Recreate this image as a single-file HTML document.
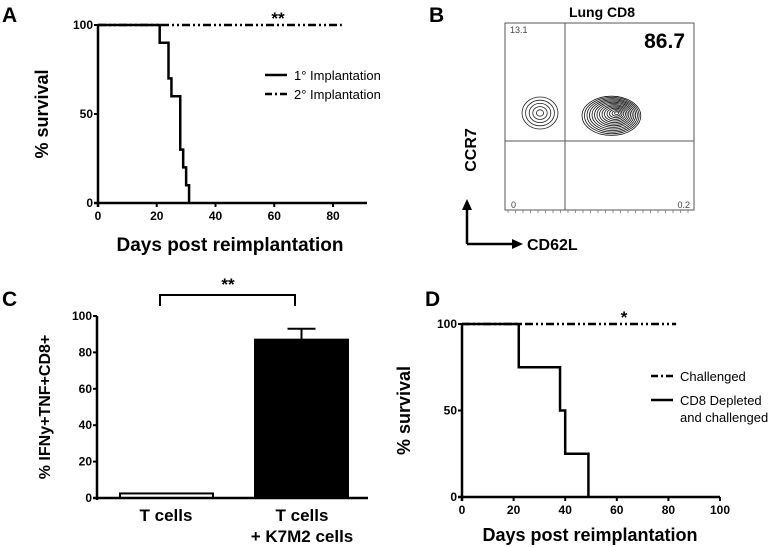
<!DOCTYPE html>
<html><head><meta charset="utf-8"><style>
body{margin:0;background:#fff}
svg{display:block;font-family:"Liberation Sans",Arial,sans-serif}
</style></head><body>
<svg id="fig" width="778" height="547" viewBox="0 0 778 547">
<text x="2" y="22" font-size="21" font-weight="bold">A</text>
<text x="429" y="22" font-size="21" font-weight="bold">B</text>
<text x="2" y="306" font-size="21" font-weight="bold">C</text>
<text x="425" y="306" font-size="21" font-weight="bold">D</text>
<g id="gA"></g>
<g id="gB"></g>
<g id="gC"></g>
<g id="gD"></g>
</svg>
<script>
// Panel A data
const aDays1 = [0, 21, 24, 25, 28, 29, 30, 31];
const aSurv1 = [100, 90, 70, 60, 30, 20, 10, 0];
const aDays2 = [0, 83];
const aSurv2 = [100, 100];
const aXTicks = [0, 20, 40, 60, 80];
const aYTicks = [0, 50, 100];
// Panel D data
const dDays1 = [0, 83];
const dSurv1 = [100, 100];
const dDays2 = [0, 22, 38, 40, 49];
const dSurv2 = [100, 75, 50, 25, 0];
const dXTicks = [0, 20, 40, 60, 80, 100];
const dYTicks = [0, 50, 100];
// Panel C data
const cCategories = ["T cells", "T cells + K7M2 cells"];
const cValues = [2.5, 87];
const cErrors = [0, 6];
const cYTicks = [0, 20, 40, 60, 80, 100];
// Panel B data
const bQuadrants = ["13.1", "86.7", "0", "0.2"];

const NS = "http://www.w3.org/2000/svg";
function mk(parent, tag, attrs, text) {
  const e = document.createElementNS(NS, tag);
  for (const k in attrs) e.setAttribute(k, attrs[k]);
  if (text !== undefined) e.textContent = text;
  parent.appendChild(e);
  return e;
}
function stepPath(xs, ys, sx, sy) {
  let d = "M" + sx(xs[0]) + "," + sy(ys[0]);
  for (let i = 1; i < xs.length; i++) {
    d += " H" + sx(xs[i]) + " V" + sy(ys[i]);
  }
  return d;
}
function survival(g, cfg) {
  const sx = v => cfg.x0 + (v - 0) * (cfg.x1 - cfg.x0) / cfg.xmax;
  const sy = v => cfg.y0 - v * (cfg.y0 - cfg.y1) / 100;
  let e;
  e = mk(g, "line", {x1: sx(0), y1: cfg.y1, x2: sx(0), y2: cfg.y0 + 4, stroke: "#000", "stroke-width": 2.5});
  
  
  e = mk(g, "line", {x1: sx(0) - 4, y1: cfg.y0, x2: cfg.xend, y2: cfg.y0, stroke: "#000", "stroke-width": 2.5});
  
  
  cfg.yt.forEach(t => {
    mk(g, "line", {x1: sx(0) - 4, y1: sy(t), x2: sx(0), y2: sy(t), stroke: "#000", "stroke-width": 2});
    e = mk(g, "text", {x: sx(0) - 5, y: sy(t) + 4, "font-size": 12, "font-weight": "bold", "text-anchor": "end"}, t);
    
    
  });
  cfg.xt.forEach(t => {
    mk(g, "line", {x1: sx(t), y1: cfg.y0, x2: sx(t), y2: cfg.y0 + 4, stroke: "#000", "stroke-width": 2});
    e = mk(g, "text", {x: sx(t), y: cfg.y0 + 17, "font-size": 12, "font-weight": "bold", "text-anchor": "middle"}, t);
    
    
  });
  e = mk(g, "path", {d: stepPath(cfg.sxs, cfg.sys, sx, sy), fill: "none", stroke: "#000", "stroke-width": 2.5});
  
  
  e = mk(g, "path", {d: stepPath(cfg.dxs, cfg.dys, sx, sy), fill: "none", stroke: "#000", "stroke-width": 2.5, "stroke-dasharray": "8,3,2,3,2,3"});
  
  
  e = mk(g, "text", {x: cfg.starX, y: sy(100) - 1, "font-size": 17, "font-weight": "bold", "text-anchor": "middle"}, cfg.star);
  
  
  e = mk(g, "text", {x: cfg.ylx, y: (cfg.y0 + cfg.y1) / 2, "font-size": 18, "font-weight": "bold", "text-anchor": "middle", transform: "rotate(-90 " + cfg.ylx + " " + (cfg.y0 + cfg.y1) / 2 + ")"}, "% survival");
  
  
  e = mk(g, "text", {x: cfg.xlx, y: cfg.xly, "font-size": cfg.xfs, "font-weight": "bold", "text-anchor": "middle"}, "Days post reimplantation");
  
  
  cfg.legend.forEach((L, i) => {
    e = mk(g, "line", {x1: L.x, y1: L.y, x2: L.x + 22, y2: L.y, stroke: "#000", "stroke-width": 2.5, "stroke-dasharray": L.dash || "none"});
    
    
    L.lines.forEach((t, j) => {
      e = mk(g, "text", {x: L.x + 29, y: L.y + 5 + j * 17, "font-size": 13}, t);
      
      
    });
  });
}
survival(document.getElementById("gA"), {
  x0: 98, x1: 333, xmax: 80, xend: 367, y0: 203, y1: 25, xt: aXTicks, yt: aYTicks,
  sxs: aDays1, sys: aSurv1, dxs: aDays2, dys: aSurv2, star: "**", starX: 278,
  ylx: 48, xlx: 230, xly: 251, xfs: 19,
  legend: [{x: 265, y: 75, lines: ["1° Implantation"]}, {x: 265, y: 94, dash: "7,3,2,3", lines: ["2° Implantation"]}]
});
survival(document.getElementById("gD"), {
  x0: 462, x1: 720, xmax: 100, xend: 720, y0: 497, y1: 324, xt: dXTicks, yt: dYTicks,
  sxs: dDays2, sys: dSurv2, dxs: dDays1, dys: dSurv1, star: "*", starX: 624,
  ylx: 410, xlx: 590, xly: 541, xfs: 18,
  legend: [{x: 651, y: 376, dash: "7,3,2,3", lines: ["Challenged"]}, {x: 651, y: 400, lines: ["CD8 Depleted", "and challenged"]}]
});

// Panel C
(function () {
  const g = document.getElementById("gC");
  const x0 = 97, y0 = 498, y1 = 316;
  const sy = v => y0 - v * (y0 - y1) / 100;
  const bandL = [120, 255], bw = 93;
  let e;
  e = mk(g, "line", {x1: x0, y1: y1, x2: x0, y2: y0 + 2, stroke: "#000", "stroke-width": 2.5});
  
  
  cCategories.forEach((c, i) => {
    const x = bandL[i], v = cValues[i];
    const fill = i === 0 ? "#fff" : "#000";
    e = mk(g, "rect", {x: x, y: sy(v), width: bw, height: y0 - sy(v), fill: fill, stroke: "#000", "stroke-width": 2});
    
    
    if (cErrors[i] > 0) {
      const cx = x + bw / 2;
      e = mk(g, "path", {d: "M" + cx + "," + sy(v) + " V" + sy(v + cErrors[i]) + " M" + (cx - 14) + "," + sy(v + cErrors[i]) + " H" + (cx + 14), stroke: "#000", "stroke-width": 2, fill: "none"});
      
      
    }
  });
  e = mk(g, "line", {x1: x0 - 4, y1: y0, x2: 368, y2: y0, stroke: "#000", "stroke-width": 2.5});
  
  
  cYTicks.forEach(t => {
    mk(g, "line", {x1: x0 - 4, y1: sy(t), x2: x0, y2: sy(t), stroke: "#000", "stroke-width": 2});
    e = mk(g, "text", {x: x0 - 5, y: sy(t) + 4, "font-size": 12, "font-weight": "bold", "text-anchor": "end"}, t);
    
    
  });
  e = mk(g, "text", {x: 166, y: 521, "font-size": 17, "font-weight": "bold", "text-anchor": "middle"}, "T cells");
  
  
  e = mk(g, "text", {x: 302, y: 521, "font-size": 17, "font-weight": "bold", "text-anchor": "middle"}, "T cells");
  
  
  e = mk(g, "text", {x: 302, y: 542, "font-size": 17, "font-weight": "bold", "text-anchor": "middle"}, "+ K7M2 cells");
  
  
  e = mk(g, "path", {d: "M160,306 V295 H295 V306", stroke: "#000", "stroke-width": 2, fill: "none"});
  
  
  e = mk(g, "text", {x: 228, y: 290, "font-size": 17, "font-weight": "bold", "text-anchor": "middle"}, "**");
  
  
  e = mk(g, "text", {x: 50, y: 407, "font-size": 16, "font-weight": "bold", "text-anchor": "middle", transform: "rotate(-90 50 407)"}, "% IFNy+TNF+CD8+");
  
  
})();

// Panel B
(function () {
  const g = document.getElementById("gB");
  let e;
  e = mk(g, "text", {x: 602, y: 17, "font-size": 14, "font-weight": "bold", "text-anchor": "middle"}, "Lung CD8");
  
  
  e = mk(g, "rect", {x: 505, y: 23, width: 189, height: 187, fill: "none", stroke: "#555", "stroke-width": 1});
  
  
  mk(g, "line", {x1: 565, y1: 23, x2: 565, y2: 210, stroke: "#555", "stroke-width": 1});
  mk(g, "line", {x1: 505, y1: 141, x2: 694, y2: 141, stroke: "#555", "stroke-width": 1});
  const qpos = [[510, 33, 9, "start", "normal"], [685, 48, 21, "end", "bold"], [511, 208, 9, "start", "normal"], [690, 208, 9, "end", "normal"]];
  bQuadrants.forEach((q, i) => {
    e = mk(g, "text", {x: qpos[i][0], y: qpos[i][1], "font-size": qpos[i][2], "text-anchor": qpos[i][3], "font-weight": qpos[i][4], fill: i === 1 ? "#000" : "#444"}, q);
    
    
  });
  for (let k = 1; k <= 5; k++) {
    e = mk(g, "ellipse", {cx: 540, cy: 113, rx: 3.6 * k, ry: 3.2 * k, fill: "none", stroke: "#222", "stroke-width": 0.8});
    
    
  }
  for (let k = 1; k <= 14; k++) {
    e = mk(g, "ellipse", {cx: 617 - k * 0.4, cy: 113 + k * 0.2, rx: 2.1 * k, ry: 1.4 * k, fill: "none", stroke: "#111", "stroke-width": 0.8});
    
    
  }
  for (let i = 0; i < 25; i++) mk(g, "line", {x1: 508 + i * 7.5, y1: 210, x2: 508 + i * 7.5, y2: 213, stroke: "#777", "stroke-width": 0.8});
  e = mk(g, "path", {d: "M467,244 V208", stroke: "#000", "stroke-width": 2.5, fill: "none"});
  e = mk(g, "path", {d: "M467,244 H514", stroke: "#000", "stroke-width": 2.5, fill: "none"});
  mk(g, "polygon", {points: "462,210 472,210 467,199", fill: "#000"});
  mk(g, "polygon", {points: "512,239 512,249 523,244", fill: "#000"});
  e = mk(g, "text", {x: 527, y: 250, "font-size": 16, "font-weight": "bold"}, "CD62L");
  
  
  e = mk(g, "text", {x: 476, y: 150, "font-size": 16, "font-weight": "bold", "text-anchor": "middle", transform: "rotate(-90 476 150)"}, "CCR7");
  
  
})();
</script>
</body></html>
